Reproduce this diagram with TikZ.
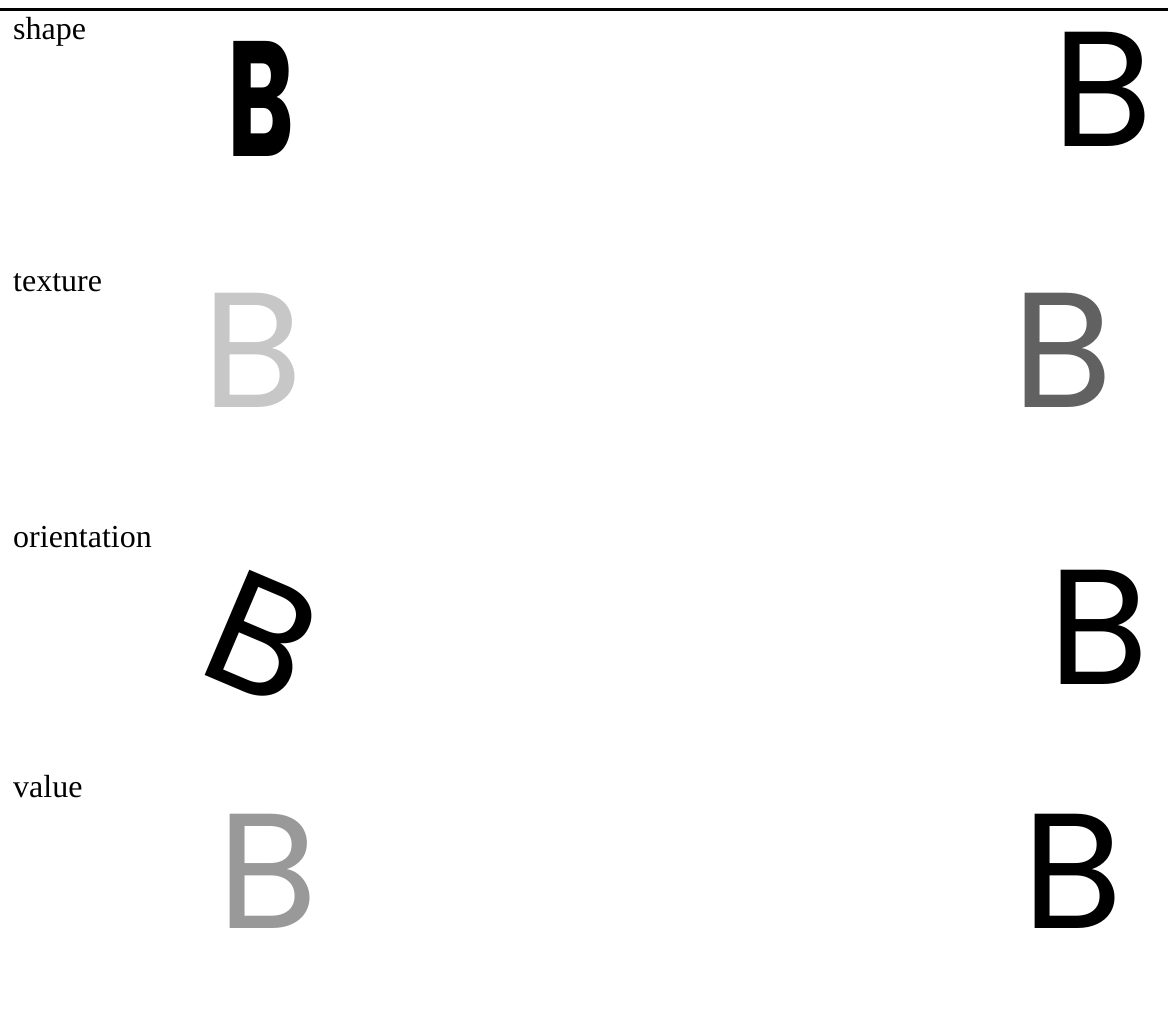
\documentclass[tikz,border=0pt]{standalone}
\usepackage{fontspec}
\setmainfont{Liberation Serif}
\newfontfamily\letterfont{Poppins}

\tikzset{
  varlabel/.style={anchor=base west, inner sep=0pt,
                   font=\fontsize{32}{38}\selectfont},
  bigB/.style={inner sep=0pt, font=\letterfont\fontsize{164}{170}\selectfont},
}

\begin{document}
\begin{tikzpicture}[x=1pt, y=-1pt]
  \useasboundingbox (0,0) rectangle (1168,1019);

  % Top rule
  \draw[line width=3pt] (0,9.5) -- (1168,9.5);

  % Variable names
  \node[varlabel] (shapelbl) at (13,40) {shape};
  \node[varlabel] (texlbl)   at (13,292) {texture};
  \node[varlabel] (orilbl)   at (13,547) {orientation};
  \node[varlabel] (vallbl)   at (13,797) {value};

  % shape: heavy condensed vs. plain
  \node[bigB] (shapeL) at (261,98.5) {\scalebox{0.62}[1]{\bfseries B}};
  \node[bigB] (shapeR) at (1102.5,89.5) {B};

  % texture: light vs. dark grain
  \node[bigB, text=black!22] (texL) at (252.5,350) {B};
  \node[bigB, text=black!62] (texR) at (1063,350) {B};

  % orientation: tilted vs. upright
  \node[bigB, rotate=-23] (oriL) at (262,637.5) {B};
  \node[bigB] (oriR) at (1099,627.5) {B};

  % value: grey vs. black
  \node[bigB, text=black!40] (valL) at (268,871.5) {B};
  \node[bigB] (valR) at (1072.5,871.5) {B};
\end{tikzpicture}
\end{document}
